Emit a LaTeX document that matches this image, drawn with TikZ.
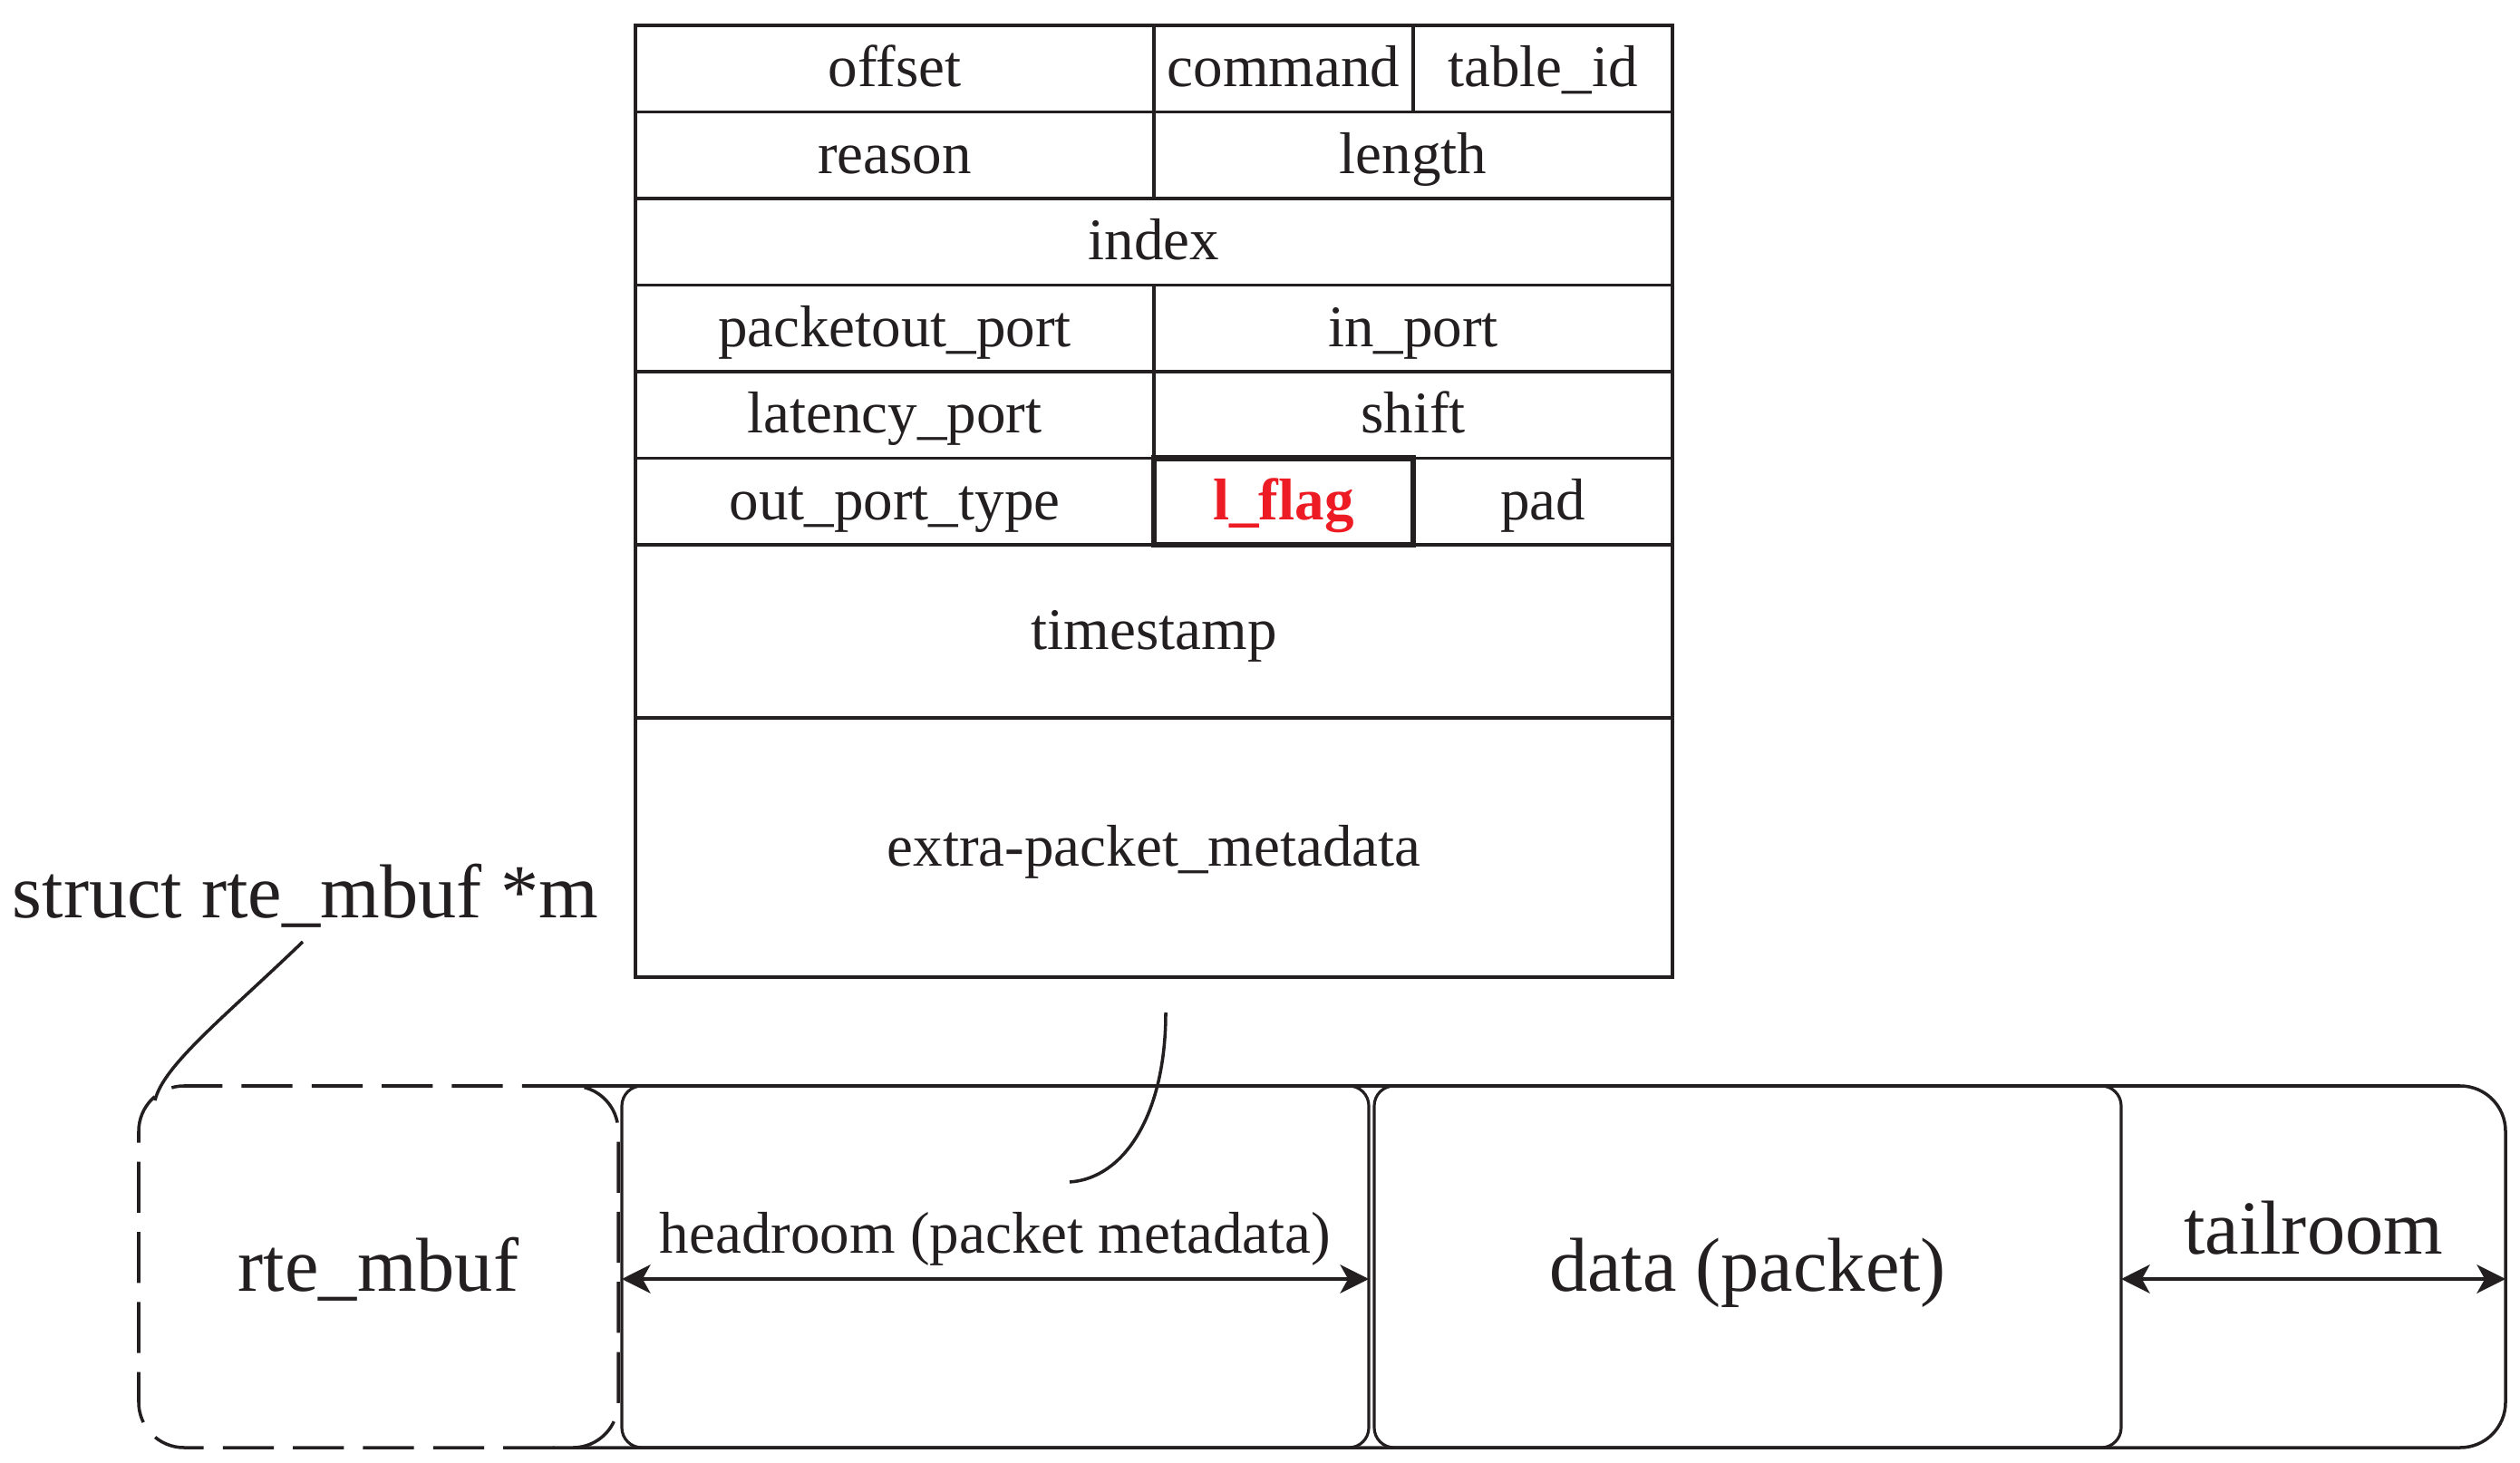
\documentclass[tikz,border=0pt]{standalone}
\usepackage{fontspec}
\setmainfont{Liberation Serif}
\usepackage{xcolor}
\usetikzlibrary{positioning,arrows.meta}
\definecolor{ink}{RGB}{35,31,32}
\definecolor{flagred}{RGB}{237,28,36}
\newcommand{\cellfont}{\fontsize{18.5}{22}\selectfont}
\newcommand{\bigfont}{\fontsize{24}{28}\selectfont}

\begin{document}
\begin{tikzpicture}[color=ink,line width=1pt,
  cell/.style={draw,inner sep=0pt,outer sep=0pt,minimum height=0.955cm,
    text height=13pt,text depth=1.6pt,font=\cellfont},
  room/.style={draw,inner sep=0pt,outer sep=0pt,minimum height=3.99cm,
    text height=17pt,text depth=1.4pt,font=\bigfont},
  span/.style={<->,>={Stealth[length=9pt,width=9pt,inset=2.5pt]}}]
\useasboundingbox (0,0) rectangle (27.8,16.13);
\node[cell,minimum width=5.72cm,anchor=north west] (offset) at (7.01,15.85) {offset};
\node[cell,minimum width=2.86cm,right=0pt of offset] (command) {command};
\node[cell,minimum width=2.86cm,right=0pt of command] (tableid) {table\_id};
\node[cell,minimum width=5.72cm,below=0pt of offset] (reason) {reason};
\node[cell,minimum width=5.72cm,right=0pt of reason] (length) {length};
\node[cell,minimum width=11.44cm,below=0pt of reason.south west,anchor=north west] (index) {index};
\node[cell,minimum width=5.72cm,below=0pt of index.south west,anchor=north west] (pktout) {packetout\_port};
\node[cell,minimum width=5.72cm,right=0pt of pktout] (inport) {in\_port};
\node[cell,minimum width=5.72cm,below=0pt of pktout] (latport) {latency\_port};
\node[cell,minimum width=5.72cm,right=0pt of latport] (shift) {shift};
\node[cell,minimum width=5.72cm,below=0pt of latport] (outtype) {out\_port\_type};
\node[cell,minimum width=2.86cm,right=2.86cm of outtype] (pad) {pad};
\node[cell,minimum width=2.86cm,right=0pt of outtype,line width=1.8pt,
  text=flagred,font=\cellfont\bfseries] (lflag) {l\_flag};
\node[cell,minimum width=11.44cm,minimum height=1.91cm,below=0pt of outtype.south west,anchor=north west] (tstamp) {timestamp};
\node[cell,minimum width=11.44cm,minimum height=2.86cm,below=0pt of tstamp] (extra) {extra-packet\_metadata};

\draw [rounded corners=0.5cm] (6.1,4.15) -- (27.64,4.15) -- (27.64,0.16) -- (6.1,0.16);
\node[room,minimum width=5.29cm,rounded corners=0.5cm,dash pattern=on 16pt off 6pt] (mbuf) at (4.175,2.155) {rte\_mbuf};
\node[room,minimum width=8.24cm,rounded corners=0.22cm,line width=0.9pt] (hdr) at (10.98,2.155) {};
\node[room,minimum width=8.24cm,rounded corners=0.22cm,line width=0.9pt] (data) at (19.28,2.155) {data (packet)};

\coordinate (arrowy) at (0,2.02);
\coordinate (tailend) at (27.64,2.02);
\draw [span] (hdr.west |- arrowy) -- (hdr.east |- arrowy);
\draw [span] (data.east |- arrowy) -- (tailend);
\node[anchor=base,font=\cellfont] (hdrlbl) at (10.98,2.31) {headroom (packet metadata)};
\node[anchor=base,font=\bigfont] (taillbl) at (25.52,2.30) {tailroom};

\node[anchor=base west,inner sep=0pt,font=\bigfont] (ptrlbl) at (0.12,6.01) {struct rte\_mbuf *m};
\coordinate (ptrfoot) at (3.34,5.74);
\coordinate (mbufcorner) at (1.71,3.99);
\draw (ptrfoot) .. controls (2.50,4.93) and (1.80,4.38) .. (mbufcorner);
\coordinate (tabfoot) at (12.86,4.96);
\coordinate (hdrtip) at (11.80,3.09);
\draw (tabfoot) .. controls (12.86,3.83) and (12.40,3.13) .. (hdrtip);
\end{tikzpicture}
\end{document}
